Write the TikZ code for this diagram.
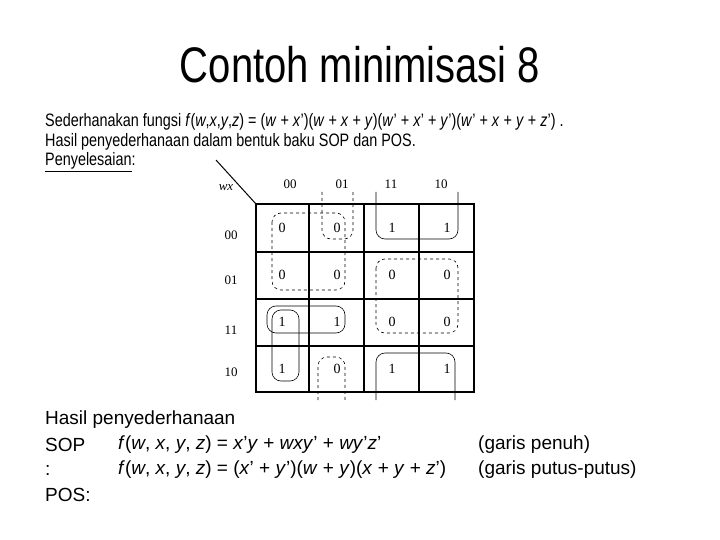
\documentclass[tikz,border=0pt]{standalone}
\usepackage{fontspec}
\setmainfont{Liberation Sans}[FakeStretch=0.8]
\newfontfamily\kfont{Liberation Serif}
\newfontfamily\hfont{Liberation Sans}
\usetikzlibrary{positioning}
\tikzset{
  txt/.style={anchor=west, inner sep=0pt, font=\fontsize{18}{20}\selectfont},
  res/.style={anchor=west, inner sep=0pt, font=\hfont\fontsize{19}{22}\selectfont},
  cell/.style={font=\kfont\fontsize{14}{16}\selectfont, inner sep=0pt},
  lbl/.style={font=\kfont\fontsize{13}{15}\selectfont, inner sep=0pt},
  grid/.style={line width=1.4pt},
  loopa/.style={line width=0.6pt, rounded corners=9pt},
  loopb/.style={line width=0.6pt, dashed, rounded corners=9pt}
}
\begin{document}
\begin{tikzpicture}[x=1pt, y=-1pt]
\useasboundingbox (0,0) rectangle (720,540);
\node[font=\fontsize{50}{54}\selectfont, inner sep=0pt] (title) at (360,65) {Contoh minimisasi 8};
\node[txt] (t1) at (45,122) {Sederhanakan fungsi \textit{f}(\textit{w},\textit{x},\textit{y},\textit{z}) = (\textit{w} + \textit{x}’)(\textit{w} + \textit{x} + \textit{y})(\textit{w}’ + \textit{x}’ + \textit{y}’)(\textit{w}’ + \textit{x} + \textit{y} + \textit{z}’) .};
\node[txt] (t2) at (45,142) {Hasil penyederhanaan dalam bentuk baku SOP dan POS.};
\node[txt] (t3) at (45,162) {\underline{Penyelesaian}:};
% kartu karnaugh
\draw[grid] (256,204) rectangle (474,392);
\foreach \x in {309,364,419} \draw[grid] (\x,204) -- (\x,392);
\foreach \y in {252,299,346} \draw[grid] (256,\y) -- (474,\y);
\coordinate (corner) at (256,204);
\coordinate (diag) at (216,160);
\draw[line width=1pt] (diag) -- (corner);
\node[lbl] (wx) at (226,188) {\textit{wx}};
\foreach \c/\x in {00/290,01/342,11/391,10/441}
  \node[lbl] (col\c) at (\x,184) {\c};
\foreach \r/\y in {00/235,01/280,11/330,10/372}
  \node[lbl] (row\r) at (231,\y) {\r};
\foreach \v [count=\i] in {0,0,1,1} \node[cell] at ({282+(\i-1)*55},228) {\v};
\foreach \v [count=\i] in {0,0,0,0} \node[cell] at ({282+(\i-1)*55},275) {\v};
\foreach \v [count=\i] in {1,1,0,0} \node[cell] at ({282+(\i-1)*55},322) {\v};
\foreach \v [count=\i] in {1,0,1,1} \node[cell] at ({282+(\i-1)*55},369) {\v};
% garis penuh
\draw[loopa] (376,192) -- (376,239) -- (458,239) -- (458,192);
\draw[loopa] (376,400) -- (376,353) -- (455,353) -- (455,400);
\draw[loopa] (267,306) rectangle (345,333);
\draw[loopa] (272,310) rectangle (299,381);
% garis putus-putus
\draw[loopb] (272,213) rectangle (345,290);
\draw[loopb] (322,192) -- (322,239) -- (353,239) -- (353,192);
\draw[loopb] (318,400) -- (318,357) -- (345,357) -- (345,400);
\draw[loopb] (376,259) rectangle (458,333);
% hasil
\node[res] (h1) at (45,420) {Hasil penyederhanaan};
\node[res] (h2) at (45,445) {SOP};
\node[res] (h3) at (45,470) {:};
\node[res] (h4) at (45,495) {POS:};
\node[res] (sop) at (118,445) {\textit{f}(\textit{w}, \textit{x}, \textit{y}, \textit{z}) = \textit{x}’\textit{y} + \textit{wxy}’ + \textit{wy}’\textit{z}’};
\node[res] (pos) at (118,470) {\textit{f}(\textit{w}, \textit{x}, \textit{y}, \textit{z}) = (\textit{x}’ + \textit{y}’)(\textit{w} + \textit{y})(\textit{x} + \textit{y} + \textit{z}’)};
\node[res] (g1) at (478,445) {(garis penuh)};
\node[res] (g2) at (478,470) {(garis putus-putus)};
\end{tikzpicture}
\end{document}
